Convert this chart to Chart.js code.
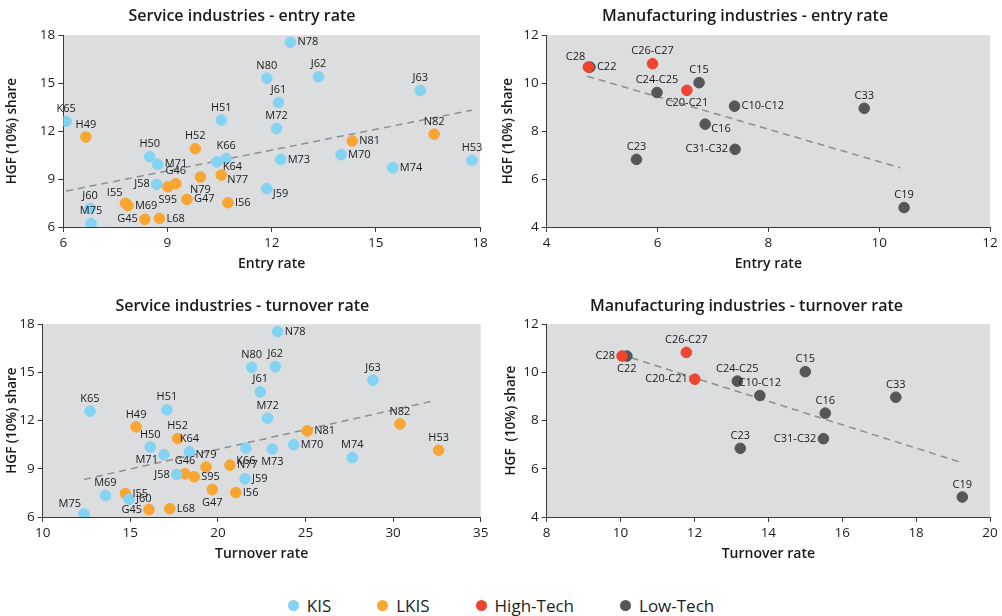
<!DOCTYPE html>
<html>
<head>
<meta charset="utf-8">
<script src="https://cdn.jsdelivr.net/npm/chart.js@4.4.1/dist/chart.umd.min.js"></script>
<style>
  body { margin: 0; width: 1002px; height: 616px; background: #fff; overflow: hidden; font-family: "Open Sans", sans-serif; }
  canvas { position: absolute; }
  #legend { position: absolute; left: 0; top: 594px; width: 1002px; display: flex; justify-content: center; gap: 46px; font-size: 17px; font-weight: 500; color: #1e1e1e; }
  #legend span { display: flex; align-items: center; }
  #legend i { display: inline-block; width: 11px; height: 11px; border-radius: 50%; margin-right: 8px; }
</style>
</head>
<body>
<canvas id="servEntry" width="500" height="290" style="left:0;top:0"></canvas>
<canvas id="manuEntry" width="502" height="290" style="left:500px;top:0"></canvas>
<canvas id="servTurn" width="500" height="290" style="left:0;top:290px"></canvas>
<canvas id="manuTurn" width="502" height="290" style="left:500px;top:290px"></canvas>
<div id="legend">
  <span><i style="background:#82d3f4"></i>KIS</span>
  <span><i style="background:#f8a531"></i>LKIS</span>
  <span><i style="background:#ee4431"></i>High-Tech</span>
  <span><i style="background:#555658"></i>Low-Tech</span>
</div>
<script>
// service industries, entry rate
const seKisCodes = ['K65','H50','M71','H51','K66','K64','J58','J60','M75','N78','N80','J62','J63','J61','M72','M70','M73','M74','J59','H53'];
const seKisX = [6.08, 8.49, 8.72, 10.55, 10.69, 10.42, 8.69, 6.77, 6.80, 12.54, 11.86, 13.35, 16.28, 12.20, 12.14, 14.0, 12.26, 15.49, 11.86, 17.77];
const seKisY = [12.61, 10.40, 9.92, 12.69, 10.29, 10.08, 8.67, 7.15, 6.21, 17.56, 15.31, 15.40, 14.54, 13.79, 12.17, 10.52, 10.23, 9.71, 8.40, 10.17];
const seLkisCodes = ['H49','H52','N77','N79','G46','S95','G47','I56','I55','M69','G45','L68','N82','N81'];
const seLkisX = [6.65, 9.80, 10.55, 9.95, 9.24, 9.01, 9.56, 10.74, 7.79, 7.86, 8.35, 8.77, 16.68, 14.32];
const seLkisY = [11.63, 10.90, 9.25, 9.13, 8.71, 8.52, 7.73, 7.52, 7.48, 7.34, 6.48, 6.54, 11.81, 11.38];
const seTrendX = [6.08, 17.77];
const seTrendY = [8.25, 13.31];

// service industries, turnover rate
const stKisCodes = ['K65','H51','H50','M71','K64','J58','K66','J59','M69','J60','M75','N80','N78','J62','J63','J61','M72','M70','M73','M74'];
const stKisX = [12.70, 17.09, 16.14, 16.92, 18.37, 17.65, 21.60, 21.55, 13.58, 14.93, 12.36, 21.93, 23.41, 23.28, 28.85, 22.42, 22.84, 24.33, 23.11, 27.67];
const stKisY = [12.59, 12.67, 10.36, 9.88, 10.06, 8.65, 10.29, 8.38, 7.34, 7.11, 6.19, 15.31, 17.54, 15.36, 14.52, 13.79, 12.15, 10.50, 10.23, 9.69];
const stLkisCodes = ['H49','H52','N79','G46','S95','N77','G47','I56','I55','G45','L68','N82','N81','H53'];
const stLkisX = [15.33, 17.70, 19.32, 18.12, 18.65, 20.69, 19.68, 21.02, 14.72, 16.07, 17.25, 30.39, 25.10, 32.60];
const stLkisY = [11.61, 10.88, 9.11, 8.69, 8.50, 9.23, 7.71, 7.52, 7.46, 6.46, 6.52, 11.79, 11.36, 10.15];
const stTrendX = [12.36, 32.4];
const stTrendY = [8.34, 13.25];

// manufacturing industries, entry rate
const meHighCodes = ['C28','C26-C27','C20-C21'];
const meHighX = [4.75, 5.91, 6.53];
const meHighY = [10.67, 10.81, 9.70];
const meLowCodes = ['C22','C24-C25','C15','C10-C12','C16','C31-C32','C23','C33','C19'];
const meLowX = [4.78, 5.99, 6.75, 7.39, 6.86, 7.40, 5.62, 9.73, 10.45];
const meLowY = [10.67, 9.61, 10.02, 9.04, 8.29, 7.24, 6.82, 8.95, 4.81];
const meTrendX = [4.73, 10.38];
const meTrendY = [10.29, 6.47];

// manufacturing industries, turnover rate
const mtHighCodes = ['C28','C26-C27','C20-C21'];
const mtHighX = [10.04, 11.78, 12.01];
const mtHighY = [10.68, 10.83, 9.72];
const mtLowCodes = ['C22','C24-C25','C23','C10-C12','C15','C33','C16','C31-C32','C19'];
const mtLowX = [10.17, 13.16, 13.24, 13.77, 15.00, 17.45, 15.54, 15.49, 19.25];
const mtLowY = [10.68, 9.64, 6.85, 9.04, 10.03, 8.97, 8.31, 7.25, 4.83];
const mtTrendX = [10.3, 19.25];
const mtTrendY = [10.6, 6.25];

const KIS = '#82d3f4', LKIS = '#f8a531', HIGH = '#ee4431', LOW = '#555658';
const FONT = '"Open Sans", sans-serif';

function pts(xs, ys) {
  return xs.map((x, i) => ({ x: x, y: ys[i] }));
}

function group(label, codes, xs, ys, color) {
  return {
    type: 'scatter', label: label, codes: codes, data: pts(xs, ys),
    backgroundColor: color, borderColor: color, pointRadius: 5.3, pointHoverRadius: 5.3
  };
}

function trend(xs, ys) {
  return {
    type: 'line', label: 'trend', data: pts(xs, ys),
    borderColor: '#8e8e8e', borderWidth: 1.5, borderDash: [7, 5], pointRadius: 0, fill: false
  };
}

// grey plot area
const plotBg = {
  id: 'plotBg',
  beforeDraw(chart) {
    const a = chart.chartArea, ctx = chart.ctx;
    ctx.save();
    ctx.fillStyle = '#dcdddf';
    ctx.fillRect(a.left, a.top, a.right - a.left, a.bottom - a.top);
    ctx.restore();
  }
};

// industry codes next to the dots
const codeLabels = {
  id: 'codeLabels',
  afterDatasetsDraw(chart, args, opts) {
    const ctx = chart.ctx;
    const place = opts.place || {};
    ctx.save();
    ctx.font = '500 11px ' + FONT;
    ctx.fillStyle = '#1a1a1a';
    ctx.textBaseline = 'middle';
    chart.data.datasets.forEach((ds, i) => {
      if (!ds.codes) return;
      chart.getDatasetMeta(i).data.forEach((el, j) => {
        const code = ds.codes[j];
        const p = place[code] || 't';
        let dx = 0, dy = 0, align = 'center';
        if (p === 't') dy = -12.5;
        else if (p === 'b') dy = 13;
        else if (p === 'r') { dx = 7; align = 'left'; }
        else if (p === 'l') { dx = -7; align = 'right'; }
        else if (p === 'br') { dx = 6; dy = 5; align = 'left'; }
        else if (p === 'bl') { dx = -6; dy = 5; align = 'right'; }
        else if (p === 'tr') { dx = 3; dy = -9; align = 'left'; }
        else if (p === 'tl') { dx = -3; dy = -10; align = 'right'; }
        ctx.textAlign = align;
        ctx.fillText(code, el.x + dx, el.y + dy);
      });
    });
    ctx.restore();
  }
};

function makeChart(id, o) {
  const axisCommon = {
    border: { display: true, color: '#3a3a3a', width: 1 },
    grid: { drawOnChartArea: false, drawTicks: true, tickLength: 5, color: '#3a3a3a' },
    ticks: { color: '#1e1e1e', font: { family: FONT, size: 13.5 }, padding: 3 }
  };
  return new Chart(document.getElementById(id), {
    type: 'scatter',
    data: { datasets: o.datasets },
    plugins: [plotBg, codeLabels],
    options: {
      responsive: false,
      animation: false,
      layout: { padding: { left: o.padLeft, right: o.padRight, top: 0, bottom: 16 } },
      plugins: {
        legend: { display: false },
        tooltip: { enabled: false },
        title: {
          display: true, text: o.title, color: '#1a1a1a',
          font: { family: FONT, size: 16, weight: '600', lineHeight: 1.2 },
          padding: { top: 7, bottom: o.titleBottom }
        },
        codeLabels: { place: o.place }
      },
      scales: {
        x: Object.assign({}, axisCommon, {
          type: 'linear', min: o.xMin, max: o.xMax,
          ticks: Object.assign({}, axisCommon.ticks, { stepSize: o.xStep }),
          title: { display: true, text: o.xTitle, color: '#1a1a1a', font: { family: FONT, size: 14, weight: '600', lineHeight: 1.2 }, padding: { top: 0, bottom: 2 } },
          afterFit: s => { s.height = 47; }
        }),
        y: Object.assign({}, axisCommon, {
          type: 'linear', min: o.yMin, max: o.yMax,
          ticks: Object.assign({}, axisCommon.ticks, { stepSize: o.yStep }),
          title: { display: true, text: o.yTitle, color: '#1a1a1a', font: { family: FONT, size: 13.5, weight: '600', lineHeight: 1.2 }, padding: { top: 0, bottom: 0 } },
          afterFit: s => { s.width = o.yWidth; }
        })
      }
    }
  });
}

makeChart('servEntry', {
  title: 'Service industries - entry rate', titleBottom: 9,
  padLeft: 4, padRight: 20, yWidth: 59.3,
  xMin: 6, xMax: 18, xStep: 3, yMin: 6, yMax: 18, yStep: 3,
  xTitle: 'Entry rate', yTitle: 'HGF (10%) share',
  datasets: [
    group('KIS', seKisCodes, seKisX, seKisY, KIS),
    group('LKIS', seLkisCodes, seLkisX, seLkisY, LKIS),
    trend(seTrendX, seTrendY)
  ],
  place: { M71: 'r', K64: 'br', N77: 'br', N79: 'b', S95: 'b', J58: 'l', G47: 'r', I56: 'r', I55: 'tl', M69: 'r',
           G45: 'l', L68: 'r', N78: 'r', N81: 'r', M70: 'r', M73: 'r', M74: 'r', J59: 'br' }
});

makeChart('manuEntry', {
  title: 'Manufacturing industries - entry rate', titleBottom: 9,
  padLeft: 0, padRight: 12, yWidth: 46.7,
  xMin: 4, xMax: 12, xStep: 2, yMin: 4, yMax: 12, yStep: 2,
  xTitle: 'Entry rate', yTitle: 'HGF (10%) share',
  datasets: [
    group('High-Tech', meHighCodes, meHighX, meHighY, HIGH),
    group('Low-Tech', meLowCodes, meLowX, meLowY, LOW),
    trend(meTrendX, meTrendY)
  ],
  place: { C28: 'tl', C22: 'r', 'C20-C21': 'b', 'C10-C12': 'r', C16: 'br', 'C31-C32': 'l' }
});

makeChart('servTurn', {
  title: 'Service industries - turnover rate', titleBottom: 8,
  padLeft: 4, padRight: 19.3, yWidth: 38.7,
  xMin: 10, xMax: 35, xStep: 5, yMin: 6, yMax: 18, yStep: 3,
  xTitle: 'Turnover rate', yTitle: 'HGF (10%) share',
  datasets: [
    group('KIS', stKisCodes, stKisX, stKisY, KIS),
    group('LKIS', stLkisCodes, stLkisX, stLkisY, LKIS),
    trend(stTrendX, stTrendY)
  ],
  place: { M71: 'bl', J58: 'l', S95: 'r', N77: 'r', K66: 'b', M73: 'b', M70: 'r', N81: 'r', N78: 'r', J59: 'r',
           I56: 'r', G47: 'b', I55: 'r', J60: 'r', M75: 'tl', G45: 'l', L68: 'r' }
});

makeChart('manuTurn', {
  title: 'Manufacturing industries - turnover rate', titleBottom: 8,
  padLeft: 3, padRight: 12, yWidth: 43.7,
  xMin: 8, xMax: 20, xStep: 2, yMin: 4, yMax: 12, yStep: 2,
  xTitle: 'Turnover rate', yTitle: 'HGF  (10%) share',
  datasets: [
    group('High-Tech', mtHighCodes, mtHighX, mtHighY, HIGH),
    group('Low-Tech', mtLowCodes, mtLowX, mtLowY, LOW),
    trend(mtTrendX, mtTrendY)
  ],
  place: { C28: 'l', C22: 'b', 'C20-C21': 'l', 'C31-C32': 'l' }
});
</script>
</body>
</html>
